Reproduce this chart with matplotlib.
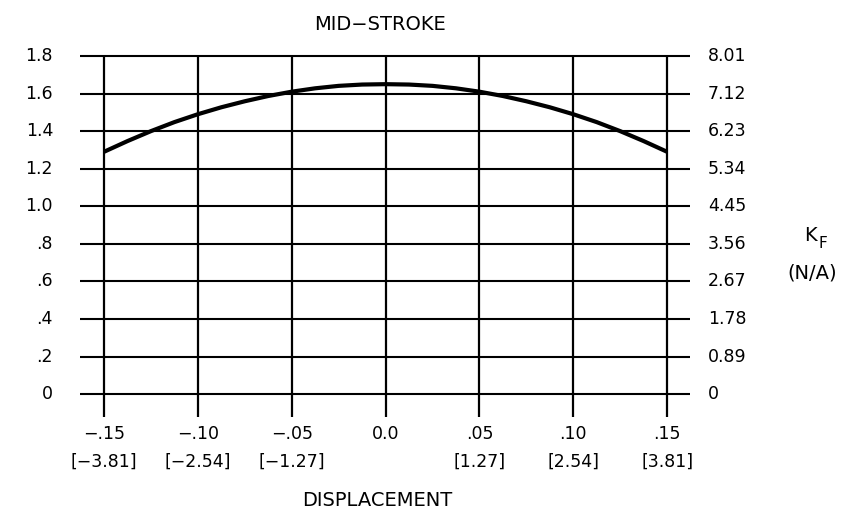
import matplotlib.pyplot as plt

# displacement (in) and force factor
disp = [-0.15, -0.1375, -0.125, -0.1125, -0.10, -0.0875, -0.075, -0.0625, -0.05, -0.0375,
        -0.025, -0.0125, 0.0, 0.0125, 0.025, 0.0375, 0.05, 0.0625, 0.075, 0.0875,
        0.10, 0.1125, 0.125, 0.1375, 0.15]
kf = [1.29, 1.347, 1.40, 1.448, 1.49, 1.527, 1.559, 1.587, 1.61, 1.628,
      1.641, 1.648, 1.65, 1.648, 1.641, 1.628, 1.61, 1.587, 1.559, 1.527,
      1.49, 1.448, 1.40, 1.347, 1.29]

xticks = [-0.15, -0.10, -0.05, 0.0, 0.05, 0.10, 0.15]
xlabels_in = ["\u2212.15", "\u2212.10", "\u2212.05", "0.0", ".05", ".10", ".15"]
xlabels_mm = ["[\u22123.81]", "[\u22122.54]", "[\u22121.27]", "", "[1.27]", "[2.54]", "[3.81]"]
yticks = [0, 0.2, 0.4, 0.6, 0.8, 1.0, 1.2, 1.4, 1.6, 1.8]
ylabels_left = ["0", ".2", ".4", ".6", ".8", "1.0", "1.2", "1.4", "1.6", "1.8"]
ylabels_right = ["0", "0.89", "1.78", "2.67", "3.56", "4.45", "5.34", "6.23", "7.12", "8.01"]

plt.rcParams['font.family'] = ['DejaVu Sans']
fs = 12.5
fs_big = 14

fig = plt.figure(figsize=(8.65, 5.19), dpi=100)
W, H = 865, 519
ax = fig.add_axes([80 / W, 1 - 417 / H, (690 - 80) / W, (417 - 56) / H])
ax.set_axis_off()
xmin, xmax = -0.1628, 0.1622
ymin, ymax = -0.122, 1.8
ax.set_xlim(xmin, xmax)
ax.set_ylim(ymin, ymax)

ax.hlines(yticks, xmin, xmax, color='black', lw=1.5, clip_on=False)
ax.vlines(xticks, ymin, ymax, color='black', lw=1.6, clip_on=False)
ax.plot(disp, kf, color='black', lw=3, solid_capstyle='butt', clip_on=False)

for y, l, r in zip(yticks, ylabels_left, ylabels_right):
    ax.annotate(l, (xmin, y), xytext=(-27, 0), textcoords='offset pixels',
                ha='right', va='center', fontsize=fs)
    ax.annotate(r, (xmax, y), xytext=(18, 0), textcoords='offset pixels',
                ha='left', va='center', fontsize=fs)

for x, a, b in zip(xticks, xlabels_in, xlabels_mm):
    ax.annotate(a, (x, ymin), xytext=(0, -17), textcoords='offset pixels',
                ha='center', va='center', fontsize=fs)
    ax.annotate(b, (x, ymin), xytext=(0, -45), textcoords='offset pixels',
                ha='center', va='center', fontsize=fs)

fig.text(380 / W, 1 - 24 / H, "MID\u2212STROKE", ha='center', va='center', fontsize=fs_big)
fig.text(377 / W, 1 - 500 / H, "DISPLACEMENT", ha='center', va='center', fontsize=fs_big)
# K with a large subscript F, as in the drawing
fig.text(817 / W, 1 - 236 / H, "K", ha='right', va='center', fontsize=fs_big)
fig.text(819 / W, 1 - 243 / H, "F", ha='left', va='center', fontsize=11)
fig.text(812 / W, 1 - 273 / H, "(N/A)", ha='center', va='center', fontsize=fs_big)

fig.savefig("out.png", dpi=100)
